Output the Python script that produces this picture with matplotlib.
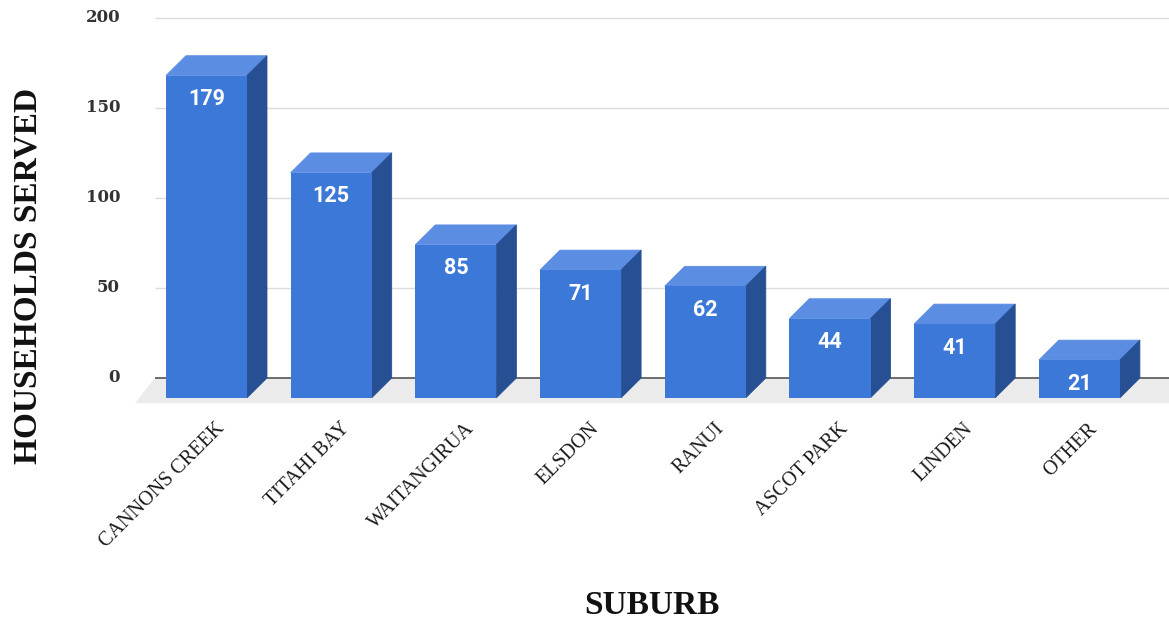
import numpy as np
import matplotlib.pyplot as plt
from matplotlib.patches import Polygon

suburbs = ['CANNONS CREEK', 'TITAHI BAY', 'WAITANGIRUA', 'ELSDON',
           'RANUI', 'ASCOT PARK', 'LINDEN', 'OTHER']
households = [179, 125, 85, 71, 62, 44, 41, 21]
y_ticks = [0, 50, 100, 150, 200]

FRONT = '#3c78d8'
TOP = '#5b8de3'
SIDE = '#274f94'
FLOOR = '#ebebeb'

bar_w = 0.65
dx = 0.16   # depth offset, x data units
dy = 11.0   # depth offset, y data units


def draw_floor(ax, x0, x1):
    """Grey floor under the bars, from the back plane to the front."""
    floor = Polygon([(x0, 0), (x1, 0), (x1 - dx, -dy - 3), (x0 - dx, -dy - 3)],
                    closed=True, facecolor=FLOOR, edgecolor='none', zorder=1)
    ax.add_patch(floor)


def draw_bars(ax, values):
    """3D-looking columns: front face via ax.bar, top and side as polygons."""
    x = np.arange(len(values))
    ax.bar(x, values, width=bar_w, bottom=-dy, color=FRONT, zorder=4)
    for xi, v in zip(x, values):
        l, r = xi - bar_w / 2, xi + bar_w / 2
        top = Polygon([(l, v - dy), (r, v - dy), (r + dx, v), (l + dx, v)],
                      closed=True, facecolor=TOP, edgecolor=TOP, lw=0.6, zorder=3)
        side = Polygon([(r, -dy), (r + dx, 0), (r + dx, v), (r, v - dy)],
                       closed=True, facecolor=SIDE, edgecolor=SIDE, lw=0.6, zorder=3)
        ax.add_patch(top)
        ax.add_patch(side)
        ax.annotate(str(v), xy=(xi, v - dy), xytext=(0, -17),
                    textcoords='offset points', ha='center', va='center',
                    color='white', fontsize=15.5, fontweight='bold',
                    family='Roboto', zorder=5)


def main():
    fig = plt.figure(figsize=(11.69, 6.22), dpi=100)
    ax = fig.add_axes([130 / 1169, 1 - 410 / 622, 1 - 130 / 1169, 400 / 622])

    xmin = (130 - 206.5) / 124.7
    xmax = (1169 - 206.5) / 124.7
    ax.set_xlim(xmin, xmax)
    ax.set_ylim(-17.8, 204.4)

    back_left = (155 - 206.5) / 124.7
    for t in y_ticks:
        ax.plot([back_left, xmax], [t, t], color='#555555' if t == 0 else '#dcdcdc',
                lw=1.2 if t == 0 else 1.0, zorder=2, solid_capstyle='butt')
        ax.text(back_left - 0.28, t, str(t), ha='right', va='center',
                fontsize=12, fontweight='bold', color='#333333',
                family='DejaVu Serif')

    draw_floor(ax, back_left, xmax + 0.2)
    draw_bars(ax, households)

    for i, name in enumerate(suburbs):
        ax.text(i + 0.07, -23, name, rotation=45, ha='right', va='top',
                rotation_mode='anchor', fontsize=14.5, color='#1a1a1a',
                family='Liberation Serif')

    ax.axis('off')

    fig.text(28 / 1169, 1 - 276 / 622, 'HOUSEHOLDS SERVED', rotation=90,
             ha='center', va='center', fontsize=24, fontweight='bold',
             color='#111111', family='Liberation Serif')
    fig.text(652 / 1169, 1 - 606 / 622, 'SUBURB', ha='center', va='center',
             fontsize=24, fontweight='bold', color='#111111',
             family='Liberation Serif')

    fig.savefig('out.png', dpi=100, facecolor='white')


if __name__ == '__main__':
    main()
